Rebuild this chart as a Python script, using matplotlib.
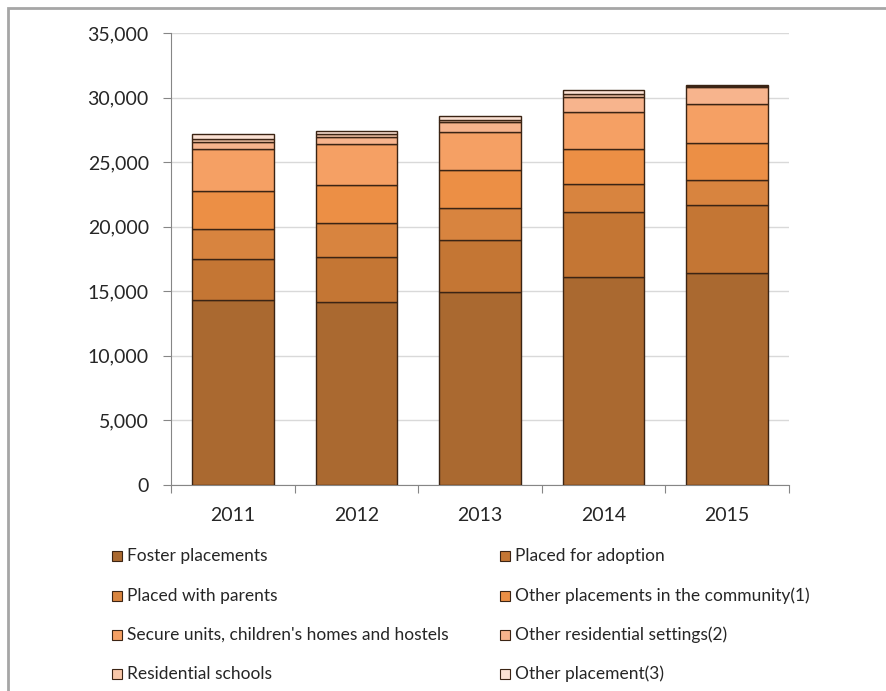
import numpy as np
import matplotlib
matplotlib.use("Agg")
import matplotlib.pyplot as plt
from matplotlib.patches import Rectangle

# data (number of children, by placement type)
years = ["2011", "2012", "2013", "2014", "2015"]
series_names = [
    "Foster placements",
    "Placed for adoption",
    "Placed with parents",
    "Other placements in the community(1)",
    "Secure units, children's homes and hostels",
    "Other residential settings(2)",
    "Residential schools",
    "Other placement(3)",
]
foster = [14350, 14200, 14950, 16080, 16440]
adoption = [3120, 3450, 4000, 5030, 5280]
parents = [2320, 2600, 2530, 2160, 1910]
community = [2960, 2990, 2920, 2720, 2830]
secure = [3240, 3180, 2970, 2865, 3040]
other_res = [540, 500, 775, 1160, 1295]
res_schools = [235, 230, 130, 255, 100]
other_place = [385, 280, 310, 310, 100]

colors = ["#AA6930", "#C47634", "#D8843F", "#EC8F45",
          "#F5A064", "#F7B48D", "#F9C8AA", "#FBE1D3"]

plt.rcParams["font.family"] = ["Lato", "DejaVu Sans"]

fig = plt.figure(figsize=(8.86, 6.91), dpi=100)
ax = fig.add_axes([171 / 886, 1 - 485 / 691, (789 - 171) / 886, (485 - 33) / 691])

all_series = [foster, adoption, parents, community, secure, other_res, res_schools, other_place]
x = np.arange(len(years))
bottom = np.zeros(len(years))
for vals, col in zip(all_series, colors):
    ax.bar(x, vals, width=0.66, bottom=bottom, color=col,
           edgecolor="#3B2414", linewidth=1.0, zorder=3)
    bottom += np.array(vals)

ax.set_xlim(-0.5, len(years) - 0.5)
ax.set_ylim(0, 35000)
ax.set_yticks(np.arange(0, 35001, 5000))
ax.set_yticklabels([f"{v:,}" for v in range(0, 35001, 5000)])
ax.yaxis.grid(True, color="#D9D9D9", linewidth=1, zorder=0)

# category labels centred, tick marks at the category boundaries
ax.set_xticks(np.arange(-0.5, len(years), 1.0))
ax.set_xticklabels([])
ax.set_xticks(x, minor=True)
ax.set_xticklabels(years, minor=True)
ax.tick_params(axis="x", which="minor", length=0, pad=16, labelsize=14, labelcolor="#262626")
ax.tick_params(axis="x", which="major", length=6, color="#868686")
ax.tick_params(axis="y", length=6, color="#868686", labelsize=14, labelcolor="#262626", pad=10)

for side in ["top", "right"]:
    ax.spines[side].set_visible(False)
for side in ["left", "bottom"]:
    ax.spines[side].set_color("#868686")

# legend in two columns, row by row
rows_y = [556, 596, 635, 674]
cols_x = [112, 500]
for i, (name, col) in enumerate(zip(series_names, colors)):
    cx = cols_x[i % 2]
    cy = rows_y[i // 2]
    fig.patches.append(Rectangle((cx / 886, 1 - (cy + 5) / 691), 10 / 886, 10 / 691,
                                 transform=fig.transFigure, facecolor=col,
                                 edgecolor="#3B2414", linewidth=0.8))
    fig.text((cx + 15) / 886, 1 - cy / 691, name, fontsize=12.5,
             color="#262626", va="center", ha="left")

# outer chart frame
fig.patches.append(Rectangle((8 / 886, -0.01), 1.0, 1 - 8 / 691 + 0.01,
                             transform=fig.transFigure, fill=False,
                             edgecolor="#A6A6A6", linewidth=2))

fig.savefig("out.png", dpi=100)
